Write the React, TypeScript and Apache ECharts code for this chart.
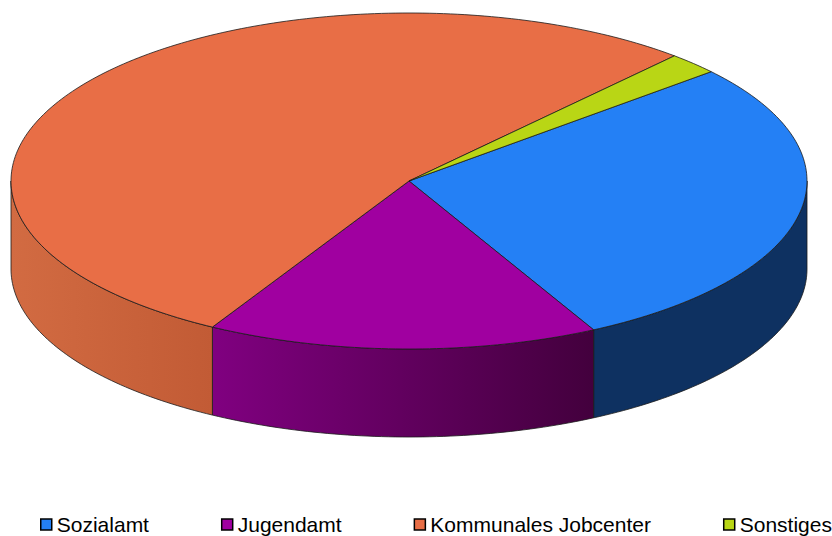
import React, { useEffect, useRef } from "react";
import * as echarts from "echarts";

const categories = ["Sozialamt", "Jugendamt", "Kommunales Jobcenter", "Sonstiges"];
const values = [28.6, 15.9, 53.4, 2.1];
const topColors = ["#2480f5", "#a000a0", "#e86e46", "#b9d615"];
const sideColorsLeft = ["#0e3161", "#800080", "#d26b42", "#8fa512"];
const sideColorsRight = ["#0e3161", "#43003d", "#c25b35", "#8fa512"];

const START_DEG = -40.6;
const CX = 409;
const CY = 181;
const RX = 398;
const RY = 168;
const DEPTH = 88;

const total = values.reduce((a, b) => a + b, 0);
const starts: number[] = [];
{
  let acc = 0;
  for (let i = 0; i < values.length; i++) {
    starts.push(acc);
    acc += values[i];
  }
}

function pt(t: number, dy = 0): number[] {
  return [CX + RX * Math.cos(t), CY + RY * Math.sin(t) + dy];
}

function arc(t1: number, t2: number, dy = 0): number[][] {
  const n = Math.max(2, Math.ceil(Math.abs(t2 - t1) / (Math.PI / 180)));
  const pts: number[][] = [];
  for (let k = 0; k <= n; k++) {
    pts.push(pt(t1 + ((t2 - t1) * k) / n, dy));
  }
  return pts;
}

function makeRender(idx: number) {
  return (params: any, api: any) => {
    const v = api.value(0);
    const s0 = (START_DEG * Math.PI) / 180;
    const t1 = s0 + (starts[idx] / total) * Math.PI * 2;
    const t2 = t1 + (v / total) * Math.PI * 2;
    const children: any[] = [];
    for (let k = -1; k <= 2; k++) {
      const a = Math.max(t1, 2 * Math.PI * k);
      const b = Math.min(t2, 2 * Math.PI * k + Math.PI);
      if (b > a + 1e-6) {
        const top = arc(a, b, 0);
        const bottom = arc(b, a, DEPTH);
        children.push({
          type: "polygon",
          z2: 1,
          shape: { points: top.concat(bottom) },
          style: {
            fill: new echarts.graphic.LinearGradient(0, 0, 1, 0, [
              { offset: 0, color: sideColorsLeft[idx] },
              { offset: 1, color: sideColorsRight[idx] },
            ]),
            stroke: "#1a1a1a",
            lineWidth: 0.8,
          },
        });
      }
    }
    const topPts = [[CX, CY]].concat(arc(t1, t2, 0));
    children.push({
      type: "polygon",
      z2: 2,
      shape: { points: topPts },
      style: { fill: topColors[idx], stroke: "#1a1a1a", lineWidth: 0.8 },
    });
    return { type: "group", children };
  };
}

export default function App() {
  const ref = useRef<HTMLDivElement>(null);
  useEffect(() => {
    if (!ref.current) return;
    const chart = echarts.init(ref.current, undefined, { renderer: "svg" });
    chart.setOption({
      animation: false,
      backgroundColor: "#ffffff",
      legend: {
        left: 40,
        top: 514,
        width: 820,
        padding: 0,
        itemWidth: 11,
        itemHeight: 11,
        itemGap: 72,
        icon: "rect",
        itemStyle: { borderColor: "#000", borderWidth: 1.5 },
        textStyle: {
          fontFamily: "Liberation Sans, Arial, sans-serif",
          fontSize: 21,
          color: "#000",
        },
        data: categories,
      },
      series: categories.map((name, i) => ({
        type: "custom",
        name,
        coordinateSystem: "none",
        itemStyle: { color: topColors[i], borderColor: "#000", borderWidth: 1.5 },
        renderItem: makeRender(i),
        data: [[values[i]]],
      })),
    });
    return () => chart.dispose();
  }, []);
  return (
    <div
      ref={ref}
      style={{ position: "fixed", left: 0, top: 0, width: 832, height: 536 }}
    />
  );
}
